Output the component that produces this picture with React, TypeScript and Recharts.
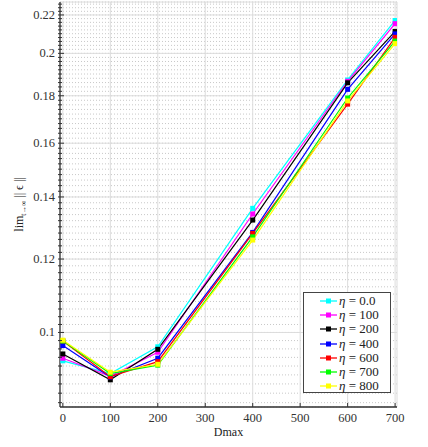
import React from 'react';
import { LineChart, Line, XAxis, YAxis, CartesianGrid, Legend } from 'recharts';

const dmax = [0, 100, 200, 400, 600, 700];
const eta0 = [0.0932, 0.0903, 0.0965, 0.1361, 0.1872, 0.2170];
const eta100 = [0.0938, 0.0897, 0.0952, 0.1342, 0.1866, 0.2153];
const eta200 = [0.0948, 0.0889, 0.0959, 0.1322, 0.1859, 0.2112];
const eta400 = [0.0968, 0.0895, 0.0938, 0.1282, 0.1829, 0.2099];
const eta600 = [0.0979, 0.0896, 0.0930, 0.1279, 0.1763, 0.2081];
const eta700 = [0.0979, 0.0903, 0.0922, 0.1268, 0.1790, 0.2062];
const eta800 = [0.0981, 0.0906, 0.0924, 0.1258, 0.1777, 0.2049];

const etaLabels = ['0.0', '100', '200', '400', '600', '700', '800'];
const seriesColors = ['#00ffff', '#ff00ff', '#000000', '#0000ff', '#ff0000', '#00ff00', '#ffff00'];
const seriesValues = [eta0, eta100, eta200, eta400, eta600, eta700, eta800];

const xTicks = [0, 100, 200, 300, 400, 500, 600, 700];
const yMajorTicks = [0.1, 0.12, 0.14, 0.16, 0.18, 0.2, 0.22];
const yMinorTicks = Array.from({ length: 72 }, (_, i) => +(0.084 + 0.002 * i).toFixed(3));

const data = dmax.map((d, i) => {
  const row: any = { dmax: d };
  seriesValues.forEach((s, k) => {
    row['e' + k] = s[i];
  });
  return row;
});

const FONT = "'Liberation Serif', 'Times New Roman', serif";
const AXIS = '#333';

const isMajor = (v: number) => yMajorTicks.some((m) => Math.abs(m - v) < 1e-9);

const LeftTick = (props: any) => {
  const { x, y, payload } = props;
  const v = payload.value;
  const major = isMajor(v);
  return (
    <g>
      <line x1={x - 2} x2={x + (major ? 4 : 2)} y1={y} y2={y} stroke={AXIS} strokeWidth={1} />
      {major && (
        <text x={x - 5} y={y} dy={4} textAnchor="end" fontSize={12.5} fill="#333" fontFamily="Liberation Serif">
          {String(v)}
        </text>
      )}
    </g>
  );
};

const RightTick = (props: any) => {
  const { x, y, payload } = props;
  const major = isMajor(payload.value);
  return <line x1={x - (major ? 4 : 2)} x2={x + 1} y1={y} y2={y} stroke={AXIS} strokeWidth={1} />;
};

const BottomTick = (props: any) => {
  const { x, y, payload } = props;
  return (
    <g>
      <line x1={x} x2={x} y1={y} y2={y - 4} stroke={AXIS} strokeWidth={1} />
      <text x={x} y={y + 15} textAnchor="middle" fontSize={12.5} fill="#333" fontFamily="Liberation Serif">
        {String(payload.value)}
      </text>
    </g>
  );
};

const TopTick = (props: any) => {
  const { x, y } = props;
  return <line x1={x} x2={x} y1={y} y2={y + 4} stroke={AXIS} strokeWidth={1} />;
};

const SquareDot = (props: any) => {
  const { cx, cy, stroke } = props;
  if (cx == null || cy == null) return null;
  return <rect x={cx - 2.5} y={cy - 2.5} width={5} height={5} fill={stroke} stroke="none" />;
};

const YLabel = (props: any) => {
  const vb = props.viewBox || {};
  const cy = (vb.y ?? 0) + (vb.height ?? 0) / 2;
  const x = 23;
  return (
    <text
      x={x}
      y={cy}
      transform={`rotate(-90, ${x}, ${cy})`}
      textAnchor="middle"
      fontSize={12}
      fill="#222"
      fontFamily="Liberation Serif"
    >
      <tspan>lim</tspan>
      <tspan fontSize={7.5} dy={3}>t→∞</tspan>
      <tspan dy={-3}> || ϵ ||</tspan>
    </text>
  );
};

const DmaxLabel = (props: any) => {
  const vb = props.viewBox || {};
  const cx = (vb.x ?? 0) + (vb.width ?? 0) / 2;
  const y = (vb.y ?? 0) + 29;
  return (
    <text x={cx} y={y} textAnchor="middle" fontSize={12} fill="#222" fontFamily="Liberation Serif">
      Dmax
    </text>
  );
};

const LegendBox = (props: any) => {
  const payload = props.payload || [];
  return (
    <div
      style={{
        width: 88,
        height: 101,
        boxSizing: 'border-box',
        border: '1px solid #444',
        background: '#fff',
        paddingTop: 1,
        fontFamily: FONT,
        fontSize: 13,
        color: '#222',
      }}
    >
      {payload.map((p: any, i: number) => (
        <div key={i} style={{ height: 14.17, display: 'flex', alignItems: 'center', whiteSpace: 'nowrap' }}>
          <svg width={20} height={8} style={{ marginLeft: 16, flex: 'none' }}>
            <line x1={0} x2={17} y1={4} y2={4} stroke={p.color} strokeWidth={1.3} />
            <rect x={6} y={1.5} width={5} height={5} fill={p.color} />
          </svg>
          <span style={{ marginLeft: -1 }}>
            <i>η</i> = {etaLabels[i]}
          </span>
        </div>
      ))}
    </div>
  );
};

export default function App() {
  return (
    <div style={{ position: 'absolute', left: 0, top: 0, width: 428, height: 447, background: '#fff', fontFamily: FONT }}>
      <LineChart width={428} height={447} data={data} margin={{ top: 2, right: 31, bottom: 10, left: 0 }}>
        <XAxis
          xAxisId="x"
          dataKey="dmax"
          type="number"
          domain={[-6, 704]}
          allowDataOverflow
          ticks={xTicks}
          interval={0}
          height={30}
          tickSize={0}
          tickMargin={0}
          tick={<BottomTick />}
          tickLine={false}
          axisLine={{ stroke: AXIS, strokeWidth: 1.3 }}
          label={{ content: <DmaxLabel /> }}
        />
        <XAxis
          xAxisId="top"
          orientation="top"
          dataKey="dmax"
          type="number"
          domain={[-6, 704]}
          allowDataOverflow
          ticks={xTicks}
          interval={0}
          height={0}
          tickSize={0}
          tickMargin={0}
          tick={<TopTick />}
          tickLine={false}
          axisLine={{ stroke: AXIS, strokeWidth: 1.3 }}
        />
        <YAxis
          yAxisId="y"
          type="number"
          scale="log"
          domain={[0.0831, 0.2272]}
          allowDataOverflow
          ticks={yMinorTicks}
          interval={0}
          width={60}
          tickSize={0}
          tickMargin={0}
          tick={<LeftTick />}
          tickLine={false}
          axisLine={{ stroke: AXIS, strokeWidth: 1.3 }}
          label={{ content: <YLabel /> }}
        />
        <YAxis
          yAxisId="yr"
          orientation="right"
          type="number"
          scale="log"
          domain={[0.0831, 0.2272]}
          allowDataOverflow
          ticks={yMinorTicks}
          interval={0}
          width={0}
          tickSize={0}
          tickMargin={0}
          tick={<RightTick />}
          tickLine={false}
          axisLine={{ stroke: AXIS, strokeWidth: 1.3 }}
        />
        <YAxis
          yAxisId="ymaj"
          hide
          type="number"
          scale="log"
          domain={[0.0831, 0.2272]}
          allowDataOverflow
          ticks={yMajorTicks}
          interval={0}
        />
        <CartesianGrid xAxisId="x" yAxisId="y" vertical={false} stroke="#c8c8c8" strokeDasharray="1 2" />
        <CartesianGrid xAxisId="x" yAxisId="ymaj" stroke="#dcdcdc" strokeWidth={1} />
        {seriesValues.map((_, k) => (
          <Line
            key={k}
            xAxisId="x"
            yAxisId="y"
            dataKey={'e' + k}
            name={'η = ' + etaLabels[k]}
            stroke={seriesColors[k]}
            strokeWidth={1.2}
            dot={<SquareDot />}
            activeDot={false}
            isAnimationActive={false}
          />
        ))}
        <Legend
          layout="horizontal"
          verticalAlign="middle"
          align="center"
          content={<LegendBox />}
          wrapperStyle={{ left: 303, top: 292, width: 88, height: 101 }}
        />
      </LineChart>
    </div>
  );
}
